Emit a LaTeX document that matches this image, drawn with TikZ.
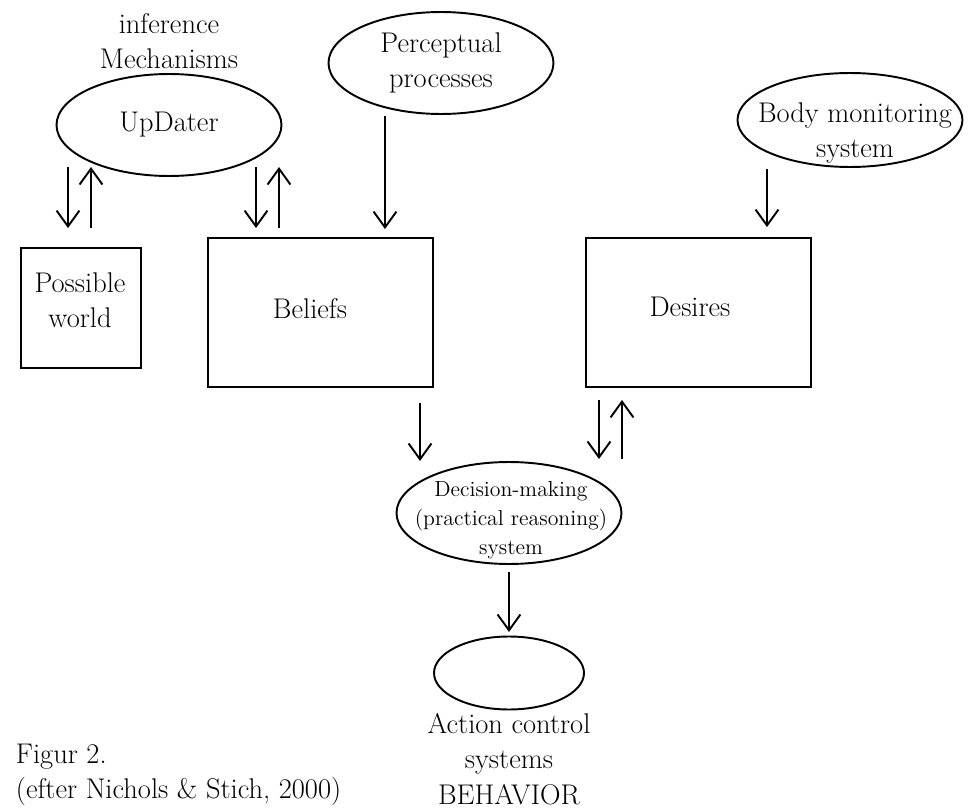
\documentclass[tikz,border=0pt]{standalone}
\usepackage{fontspec}
\usetikzlibrary{shapes.geometric, arrows.meta, calc}

\begin{document}
\begin{tikzpicture}[x=0.02cm, y=-0.02cm, line width=1.1pt,
  txt/.style={font=\fontsize{16.2}{20.2}\selectfont, align=center, inner sep=0pt},
  oval/.style={txt, draw, ellipse, inner sep=-1cm, minimum width=4.5cm, minimum height=2.04cm},
  box/.style={txt, draw, rectangle},
  arr/.style={-{Straight Barb[length=9pt,width=13pt,line width=1.1pt]}}
]
\useasboundingbox (0,0) rectangle (975,808);

%% top ovals
\node[oval] (upd) at (169,125) {UpDater};
\node[txt] (mech) at (169,41) {inference\\Mechanisms};
\node[oval] (perc) at (441,63) {Perceptual\\processes};
\node[oval, minimum height=1.88cm] (body) at (850,120) {};
\node[txt] (bodylab) at (855,133) {Body monitoring\\system};

%% boxes
\node[box, minimum width=2.4cm, minimum height=2.4cm] (pw) at (81,308) {};
\node[txt] (pwlab) at (80,300) {Possible\\world};
\node[box, minimum width=4.5cm, minimum height=2.98cm] (bel) at (320.5,312.5) {};
\node[txt] (bellab) at (310,309) {Beliefs};
\node[box, minimum width=4.5cm, minimum height=2.98cm] (des) at (698.5,312.5) {};
\node[txt] (deslab) at (690,307) {Desires};

%% lower ovals
\node[oval] (dec) at (509,513) {};
\node[txt, font=\fontsize{12.4}{16.4}\selectfont] (declab) at (511,520) {Decision-making\\(practical reasoning)\\system};
\node[oval, minimum width=3cm, minimum height=1.46cm] (act) at (509,673) {};
\node[txt] (actlab) at (509,759) {Action control\\systems\\BEHAVIOR};

%% caption
\node[txt, align=left, anchor=west] (fig) at (15,775) {Figur 2.\\(efter Nichols \& Stich, 2000)};

%% arrows
\draw[arr] ($(pw.north)+(-13,-80)$) -- ($(pw.north)+(-13,-19)$);
\draw[arr] ($(pw.north)+(10,-19)$) -- ($(pw.north)+(10,-80)$);
\draw[arr] ($(bel.north)+(-64.5,-70)$) -- ($(bel.north)+(-64.5,-9)$);
\draw[arr] ($(bel.north)+(-41.5,-9)$) -- ($(bel.north)+(-41.5,-70)$);
\draw[arr] ($(bel.north)+(64.5,-121)$) -- ($(bel.north)+(64.5,-8)$);
\draw[arr] ($(des.north)+(68.5,-68)$) -- ($(des.north)+(68.5,-10)$);
\draw[arr] ($(bel.south)+(99.5,15)$) -- ($(bel.south)+(99.5,73)$);
\draw[arr] ($(des.south)+(-99.5,12)$) -- ($(des.south)+(-99.5,71)$);
\draw[arr] ($(des.south)+(-76.5,71)$) -- ($(des.south)+(-76.5,12)$);
\draw[arr] ($(dec.south)+(0,7)$) -- ($(dec.south)+(0,67)$);
\end{tikzpicture}
\end{document}
